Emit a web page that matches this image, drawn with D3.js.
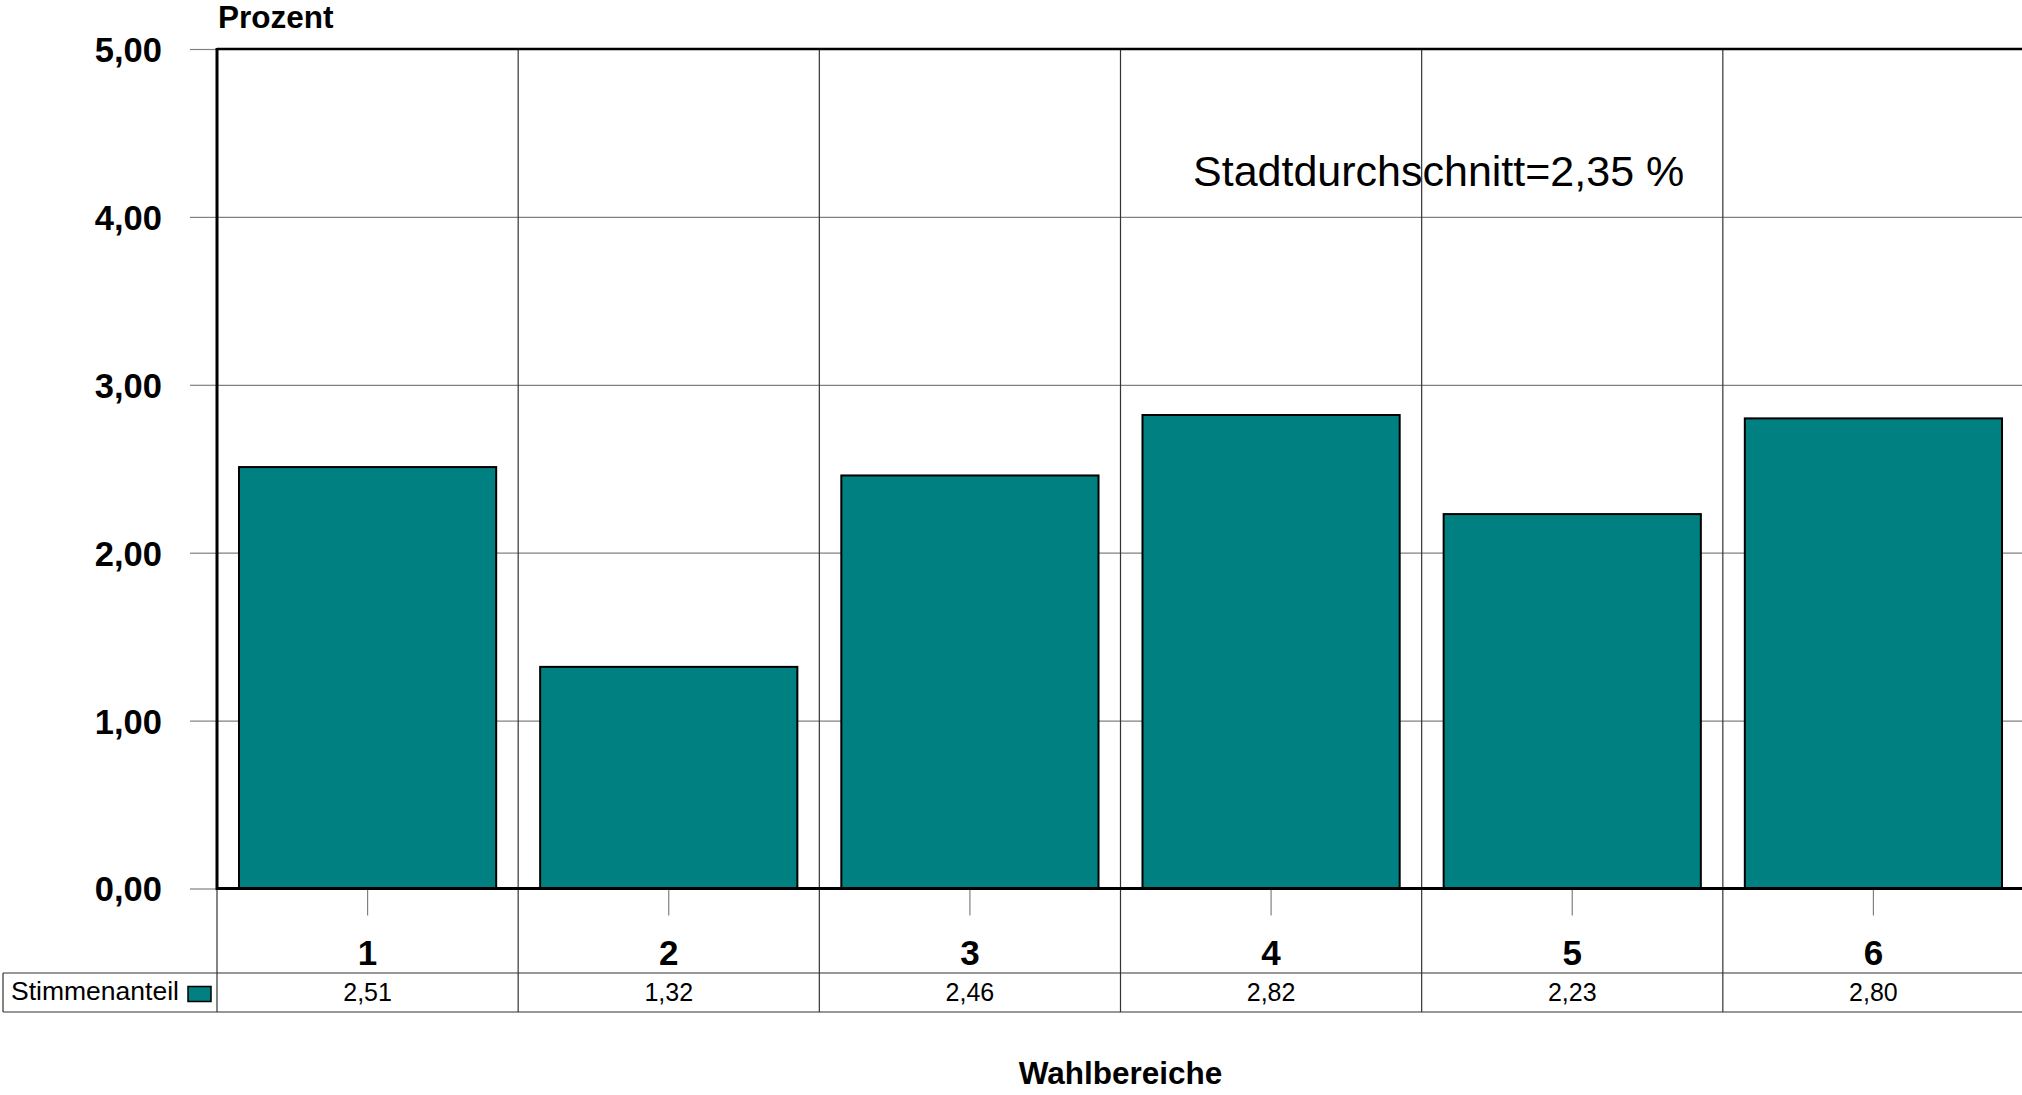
<!DOCTYPE html>
<html>
<head>
<meta charset="utf-8">
<script src="https://cdn.jsdelivr.net/npm/d3@7/dist/d3.min.js"></script>
<style>
  html, body { margin: 0; padding: 0; background: #fff; }
  svg { display: block; font-family: "Liberation Sans", Arial, sans-serif; }
</style>
</head>
<body>
<svg id="chart" width="2022" height="1095"></svg>
<script>
const categories = ["1", "2", "3", "4", "5", "6"];
const values = [2.51, 1.32, 2.46, 2.82, 2.23, 2.80];
const yTicks = [0, 1, 2, 3, 4, 5];
const seriesName = "Stimmenanteil";
const yTitle = "Prozent";
const xTitle = "Wahlbereiche";
const annotation = "Stadtdurchschnitt=2,35 %";

(function () {
const W = 2022, H = 1095;
const pLeft = 217, pRight = 2024, pTop = 49, pBottom = 888.5;
const tableTop = 973, tableBottom = 1012;
const teal = "#008080";

const de = d3.formatLocale({decimal: ",", thousands: ".", grouping: [3], currency: ["", " €"]});
const fmt = de.format(".2f");

const svg = d3.select("#chart");

const y = d3.scaleLinear().domain([0, 5]).range([pBottom, pTop]);
const x = d3.scaleBand().domain(categories).range([pLeft, pRight])
  .paddingInner(0.146).paddingOuter(0.073);
const step = x.step();
const bandStart = c => x(c) - step * 0.073;

// horizontal gridlines
const grid = svg.append("g").attr("transform", `translate(${pLeft},0)`)
  .call(d3.axisLeft(y).tickValues(yTicks.slice(1, 5)).tickSize(-(pRight - pLeft)).tickFormat(""));
grid.select(".domain").remove();
grid.selectAll("line").attr("stroke", "#808080").attr("stroke-width", 1.2);

// vertical separators (category boundaries) through plot and table
svg.append("g").selectAll("line")
  .data(categories.slice(1))
  .join("line")
  .attr("x1", d => bandStart(d)).attr("x2", d => bandStart(d))
  .attr("y1", pTop).attr("y2", tableBottom)
  .attr("stroke", "#333").attr("stroke-width", 1.2);

// label column separator below plot
svg.append("line")
  .attr("x1", pLeft).attr("x2", pLeft).attr("y1", pBottom).attr("y2", tableBottom)
  .attr("stroke", "#333").attr("stroke-width", 1.2);

// bars
svg.append("g").selectAll("rect")
  .data(categories)
  .join("rect")
  .attr("x", d => x(d))
  .attr("width", x.bandwidth())
  .attr("y", (d, i) => y(values[i]))
  .attr("height", (d, i) => y(0) - y(values[i]))
  .attr("fill", teal)
  .attr("stroke", "#000")
  .attr("stroke-width", 2);

// top border
svg.append("line")
  .attr("x1", pLeft).attr("x2", pRight).attr("y1", pTop).attr("y2", pTop)
  .attr("stroke", "#000").attr("stroke-width", 2.5);

// y axis
const yAxis = svg.append("g").attr("transform", `translate(${pLeft},0)`)
  .call(d3.axisLeft(y).tickValues(yTicks).tickSize(27).tickPadding(28).tickFormat(d => fmt(d)));
yAxis.select(".domain").remove();
yAxis.selectAll("line").attr("stroke", "#808080").attr("stroke-width", 1.2);
yAxis.selectAll("text")
  .attr("font-family", "Liberation Sans, Arial, sans-serif")
  .attr("font-size", 34.5).attr("font-weight", "bold").attr("fill", "#000")
  .attr("dy", "0.36em");
svg.append("line")
  .attr("x1", pLeft).attr("x2", pLeft).attr("y1", pTop - 1).attr("y2", pBottom + 1.5)
  .attr("stroke", "#000").attr("stroke-width", 3);

// x axis
const xAxis = svg.append("g").attr("transform", `translate(0,${pBottom})`)
  .call(d3.axisBottom(x).tickSize(27).tickPadding(22));
xAxis.select(".domain").remove();
xAxis.selectAll("line").attr("stroke", "#808080").attr("stroke-width", 1.2);
xAxis.selectAll("text")
  .attr("font-family", "Liberation Sans, Arial, sans-serif")
  .attr("font-size", 35).attr("font-weight", "bold").attr("fill", "#000")
  .attr("dy", null).attr("y", 965 - pBottom);
svg.append("line")
  .attr("x1", pLeft).attr("x2", pRight).attr("y1", pBottom).attr("y2", pBottom)
  .attr("stroke", "#000").attr("stroke-width", 3);

// data table
const tbl = svg.append("g");
tbl.append("line").attr("x1", 3).attr("x2", W).attr("y1", tableTop).attr("y2", tableTop)
  .attr("stroke", "#333").attr("stroke-width", 1.2);
tbl.append("line").attr("x1", 3).attr("x2", W).attr("y1", tableBottom).attr("y2", tableBottom)
  .attr("stroke", "#333").attr("stroke-width", 1.2);
tbl.append("line").attr("x1", 3).attr("x2", 3).attr("y1", tableTop).attr("y2", tableBottom)
  .attr("stroke", "#333").attr("stroke-width", 1.2);
tbl.append("text").attr("x", 11).attr("y", 1000)
  .attr("font-size", 26.5).attr("fill", "#000").text(seriesName);
tbl.append("rect").attr("x", 188).attr("y", 986.5).attr("width", 23).attr("height", 15)
  .attr("fill", teal).attr("stroke", "#000").attr("stroke-width", 1.5);
tbl.selectAll("text.val")
  .data(categories)
  .join("text")
  .attr("class", "val")
  .attr("x", d => x(d) + x.bandwidth() / 2)
  .attr("y", 1001)
  .attr("text-anchor", "middle")
  .attr("font-size", 25).attr("fill", "#000")
  .text((d, i) => fmt(values[i]));

// titles
svg.append("text").attr("x", 218).attr("y", 28)
  .attr("font-size", 31.5).attr("font-weight", "bold").text(yTitle);
svg.append("text").attr("x", (pLeft + pRight) / 2).attr("y", 1084)
  .attr("text-anchor", "middle")
  .attr("font-size", 31.5).attr("font-weight", "bold").text(xTitle);
svg.append("text").attr("x", 1193).attr("y", 186)
  .attr("font-size", 43).text(annotation);
})();
</script>
</body>
</html>
